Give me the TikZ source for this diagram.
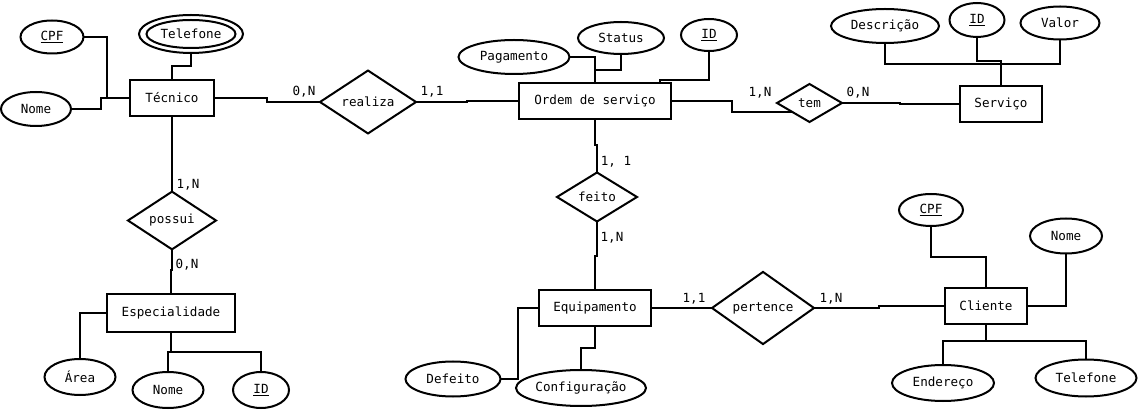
\documentclass[tikz,border=0pt]{standalone}
\usepackage{fontspec}
\setmainfont{DejaVu Sans Mono}
\usetikzlibrary{shapes.geometric,calc}

\begin{document}
\begin{tikzpicture}[x=1pt,y=-1pt]
		\tikzstyle {link line} = [line width=2pt]
		\tikzstyle {er text} = [font=\fontsize{12.6}{15}\selectfont, inner sep=0pt, outer sep=0pt]
		\tikzstyle {entity box} = [er text, draw, line width=2pt, rectangle]
		\tikzstyle {relation} = [er text, draw, line width=2pt, diamond]
		\tikzstyle {attribute} = [er text, draw, line width=2pt, ellipse]
		\tikzstyle {card} = [er text]

		\useasboundingbox (0,0) rectangle (1140,411);

		% entidades
		\node[entity box, minimum width=84pt, minimum height=36pt] (tecnico) at (172,98) {Técnico};
		\node[entity box, minimum width=152pt, minimum height=36pt] (ordem) at (595,101) {Ordem de serviço};
		\node[entity box, minimum width=82pt, minimum height=36pt] (servico) at (1001,104) {Serviço};
		\node[entity box, minimum width=128pt, minimum height=38pt] (especialidade) at (171,313) {Especialidade};
		\node[entity box, minimum width=112pt, minimum height=36pt] (equipamento) at (595,308) {Equipamento};
		\node[entity box, minimum width=82pt, minimum height=36pt] (cliente) at (986,306) {Cliente};

		% relacionamentos
		\node[relation, minimum width=96pt, minimum height=56pt] (realiza) at (368,102) {realiza};
		\node[relation, minimum width=65pt, minimum height=38pt] (tem) at (809.5,103) {tem};
		\node[relation, minimum width=88pt, minimum height=53pt] (possui) at (172,220.5) {possui};
		\node[relation, minimum width=80pt, minimum height=49pt] (feito) at (597,197) {feito};
		\node[relation, minimum width=102pt, minimum height=61pt] (pertence) at (763,308) {pertence};

		% atributos
		\node[attribute, minimum width=63pt, minimum height=33pt] (tecCpf) at (52,37) {\underline{CPF}};
		\node[attribute, minimum width=70pt, minimum height=34pt] (tecNome) at (36,109) {Nome};
		\node[attribute, minimum width=104pt, minimum height=38pt] (tecTelefone) at (191,34) {Telefone};
		\draw[line width=2pt] (tecTelefone.center) ellipse [x radius=44.5pt, y radius=14pt];

		\node[attribute, minimum width=111pt, minimum height=34pt] (ordPagamento) at (514,57) {Pagamento};
		\node[attribute, minimum width=86pt, minimum height=32pt] (ordStatus) at (621,38) {Status};
		\node[attribute, minimum width=56pt, minimum height=32pt] (ordId) at (709,35) {\underline{ID}};

		\node[attribute, minimum width=108pt, minimum height=34pt] (srvDescricao) at (885,26) {Descrição};
		\node[attribute, minimum width=55pt, minimum height=34pt] (srvId) at (977,20) {\underline{ID}};
		\node[attribute, minimum width=79pt, minimum height=33pt] (srvValor) at (1060,23) {Valor};

		\node[attribute, minimum width=71pt, minimum height=36pt] (espArea) at (80,377) {Área};
		\node[attribute, minimum width=71pt, minimum height=36pt] (espNome) at (168,390) {Nome};
		\node[attribute, minimum width=56pt, minimum height=36pt] (espId) at (261,390) {\underline{ID}};

		\node[attribute, minimum width=95pt, minimum height=35pt] (eqDefeito) at (453,379) {Defeito};
		\node[attribute, minimum width=130pt, minimum height=36pt] (eqConfig) at (581,388) {Configuração};

		\node[attribute, minimum width=64pt, minimum height=32pt] (cliCpf) at (931,210) {\underline{CPF}};
		\node[attribute, minimum width=72pt, minimum height=35pt] (cliNome) at (1066,236) {Nome};
		\node[attribute, minimum width=102pt, minimum height=36pt] (cliEndereco) at (943,383) {Endereço};
		\node[attribute, minimum width=101pt, minimum height=37pt] (cliTelefone) at (1086,378) {Telefone};

		% ligacoes dos relacionamentos
		\draw[link line] (tecnico.east) -- (267,98) |- (realiza.west);
		\draw[link line] (realiza.east) -- (467,102) |- (ordem.west);
		\draw[link line] (ordem.east) -- (732,101) |- ($(tem.west)!0.45!(tem.south)$);
		\draw[link line] (tem.east) -- (900,103) |- (servico.west);
		\draw[link line] (ordem.south) -- (595,145) -| (feito.north);
		\draw[link line] (feito.south) -- (597,256) -| (equipamento.north);
		\draw[link line] (equipamento.east) -- (pertence.west);
		\draw[link line] (pertence.east) -- (879,308) |- (cliente.west);
		\draw[link line] (tecnico.south) -- (possui.north);
		\draw[link line] (possui.south) -- (172,270) -| (especialidade.north);

		% cardinalidades
		\node[card] (cRealizaA) at (304,92) {0,N};
		\node[card] (cRealizaB) at (432,92) {1,1};
		\node[card] (cTemA) at (760,93) {1,N};
		\node[card] (cTemB) at (858,93) {0,N};
		\node[card] (cFeitoA) at (616,162) {1, 1};
		\node[card] (cFeitoB) at (612,238) {1,N};
		\node[card] (cPossuiA) at (188,185) {1,N};
		\node[card] (cPossuiB) at (187,265) {0,N};
		\node[card] (cPertenceA) at (694,299) {1,1};
		\node[card] (cPertenceB) at (831,299) {1,N};

		% ligacoes dos atributos
		\draw[link line] (tecCpf.east) -| (107,98) -- (tecnico.west);
		\draw[link line] (tecNome.east) -- (101,109) |- (tecnico.west);
		\draw[link line] (tecTelefone.south) -- (191,66) -| (tecnico.north);

		\draw[link line] (ordPagamento.east) -| (ordem.north);
		\draw[link line] (ordStatus.south) -- (621,70) -| (ordem.north);
		\draw[link line] (ordId.south) -- (709,80) -| ([xshift=-11pt]ordem.north east);

		\draw[link line] (srvDescricao.south) -- (885,64) -| (servico.north);
		\draw[link line] (srvId.south) -- (977,61) -| (servico.north);
		\draw[link line] (srvValor.south) -- (1060,64) -| (servico.north);

		\draw[link line] (especialidade.west) -| (espArea.north);
		\draw[link line] (especialidade.south) -- (171,352) -| (espNome.north);
		\draw[link line] (171,352) -| (espId.north);

		\draw[link line] (equipamento.west) -| (518,379) -- (eqDefeito.east);
		\draw[link line] (equipamento.south) -- (595,348) -| (eqConfig.north);

		\draw[link line] (cliCpf.south) -- (931,257) -| (cliente.north);
		\draw[link line] (cliNome.south) |- (cliente.east);
		\draw[link line] (cliente.south) -- (986,341) -| (cliEndereco.north);
		\draw[link line] (986,341) -| (cliTelefone.north);
\end{tikzpicture}
\end{document}
